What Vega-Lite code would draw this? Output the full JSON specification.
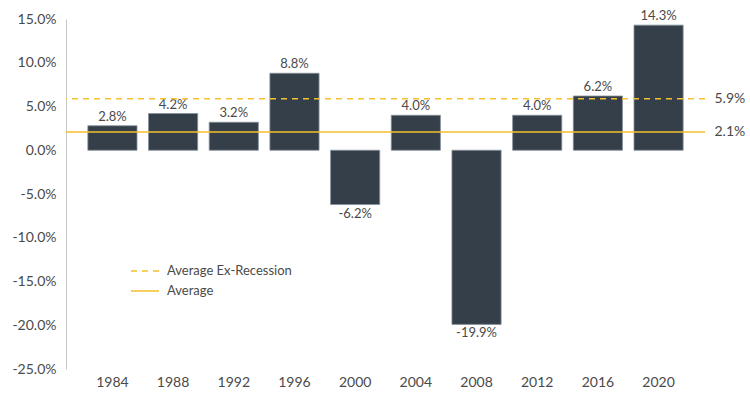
{
  "$schema": "https://vega.github.io/schema/vega-lite/v6.json",
  "width": 639,
  "height": 350,
  "autosize": {"type": "none"},
  "padding": {"left": 66, "top": 19, "right": 45, "bottom": 26},
  "background": "white",
  "config": {
    "view": {"stroke": null},
    "font": "Lato",
    "locale": {"number": {"decimal": ".", "thousands": ",", "grouping": [3], "currency": ["$", ""], "minus": "-"}},
    "axis": {"labelFont": "Lato", "labelColor": "#4a4a4a", "labelFontSize": 14, "title": null, "grid": false, "ticks": false}
  },
  "datasets": {
    "bars": [
      {"year": "1984", "value": 0.028},
      {"year": "1988", "value": 0.042},
      {"year": "1992", "value": 0.032},
      {"year": "1996", "value": 0.088},
      {"year": "2000", "value": -0.062},
      {"year": "2004", "value": 0.040},
      {"year": "2008", "value": -0.199},
      {"year": "2012", "value": 0.040},
      {"year": "2016", "value": 0.062},
      {"year": "2020", "value": 0.143}
    ],
    "avgs": [
      {"label": "Average Ex-Recession", "value": 0.059},
      {"label": "Average", "value": 0.021}
    ]
  },
  "resolve": {"axis": {"y": "independent"}},
  "layer": [
    {
      "data": {"name": "bars"},
      "mark": {"type": "bar", "color": "#343f49", "stroke": "#85909a", "strokeWidth": 0.8},
      "encoding": {
        "x": {"field": "year", "type": "ordinal", "scale": {"paddingInner": 0.19, "paddingOuter": 0.36},
              "axis": {"labelAngle": 0, "domain": false, "labelPadding": 6}},
        "y": {"field": "value", "type": "quantitative",
              "scale": {"domain": [-0.25, 0.15], "nice": false, "zero": false},
              "axis": {"format": ".1%", "values": [-0.25, -0.2, -0.15, -0.1, -0.05, 0, 0.05, 0.1, 0.15], "domain": true, "domainColor": "#c8c8c8", "domainWidth": 1, "labelPadding": 10}}
      }
    },
    {
      "mark": {"type": "rule", "color": "#d9d9d9", "strokeWidth": 2},
      "encoding": {"y": {"datum": 0, "axis": null}}
    },
    {
      "data": {"name": "bars"},
      "transform": [{"filter": "datum.value >= 0"}],
      "mark": {"type": "text", "baseline": "bottom", "dy": -2, "fontSize": 13, "color": "#4a4a4a", "font": "Lato"},
      "encoding": {
        "x": {"field": "year", "type": "ordinal"},
        "y": {"field": "value", "type": "quantitative", "axis": null},
        "text": {"field": "value", "type": "quantitative", "format": ".1%"}
      }
    },
    {
      "data": {"name": "bars"},
      "transform": [{"filter": "datum.value < 0"}],
      "mark": {"type": "text", "baseline": "top", "dy": 3, "fontSize": 13, "color": "#4a4a4a", "font": "Lato"},
      "encoding": {
        "x": {"field": "year", "type": "ordinal"},
        "y": {"field": "value", "type": "quantitative", "axis": null},
        "text": {"field": "value", "type": "quantitative", "format": ".1%"}
      }
    },
    {
      "data": {"name": "avgs"},
      "mark": {"type": "rule", "color": "#f5c02c", "strokeWidth": 1.5},
      "encoding": {
        "y": {"field": "value", "type": "quantitative",
              "axis": {"orient": "right", "values": [0.021, 0.059], "format": ".1%", "domain": false, "labelPadding": 9}},
        "strokeDash": {"field": "label", "type": "nominal",
          "scale": {"domain": ["Average Ex-Recession", "Average"], "range": [[6, 5], [1, 0]]},
          "legend": {"title": null, "orient": "none", "legendX": 64, "legendY": 242, "symbolType": "stroke",
                     "symbolStrokeColor": "#f5c02c", "symbolStrokeWidth": 1.5, "symbolSize": 784, "clipHeight": 20,
                     "labelFont": "Lato", "labelFontSize": 13, "labelColor": "#4a4a4a", "labelOffset": 7, "rowPadding": 0}}
      }
    }
  ]
}
